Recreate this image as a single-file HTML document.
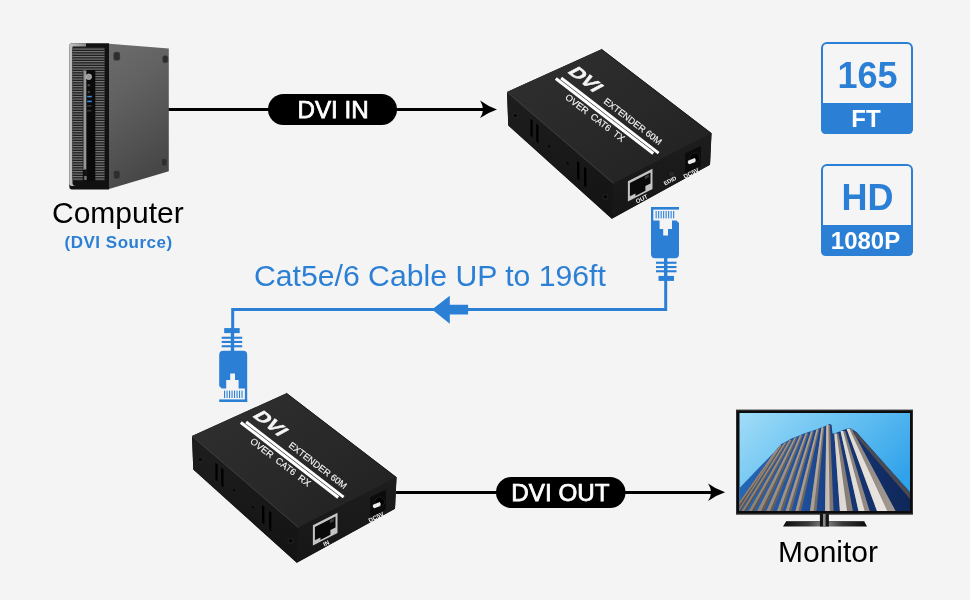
<!DOCTYPE html>
<html><head><meta charset="utf-8">
<style>
html,body{margin:0;padding:0;background:#f4f4f4;}
body{width:970px;height:600px;overflow:hidden;position:relative;font-family:"Liberation Sans",sans-serif;}
svg{position:absolute;left:0;top:0;will-change:transform;}
</style></head>
<body>
<svg width="970" height="600" viewBox="0 0 970 600">
<defs>
 <g id="plug">
  <rect x="0" y="0" width="28" height="2.6"/>
  <rect x="0" y="0" width="2.3" height="16"/>
  <rect x="4.6" y="4" width="1.1" height="7.4"/>
  <rect x="7.1" y="4" width="1.1" height="7.4"/>
  <rect x="9.6" y="4" width="1.1" height="7.4"/>
  <rect x="12.1" y="4" width="1.1" height="7.4"/>
  <rect x="14.6" y="4" width="1.1" height="7.4"/>
  <rect x="17.1" y="4" width="1.1" height="7.4"/>
  <rect x="19.6" y="4" width="1.1" height="7.4"/>
  <rect x="22.1" y="4" width="1.1" height="7.4"/>
  <path d="M0,16 L2.5,13.6 H8.6 V22 H12.2 V28.5 H17 V22 H21 V13.6 H25.5 L28,16 V47 Q28,51.2 24,51.2 H4 Q0,51.2 0,47 Z"/>
  <rect x="13" y="51" width="3.4" height="23"/>
  <rect x="5" y="54.7" width="20.5" height="2.1"/>
  <rect x="5" y="59" width="20.5" height="2.1"/>
  <rect x="5" y="63.2" width="20.5" height="2.1"/>
  <rect x="7.5" y="68.9" width="15.5" height="5"/>
 </g>
</defs>
<!-- black line top -->
<rect x="168" y="108" width="316" height="3" fill="#000"/>
<path d="M497,109.4 Q487.5,106.2 480.1,100.6 Q482.8,105 483,109.4 Q482.8,114 480.1,118 Q487.5,112.6 497,109.4 Z" fill="#000"/>
<rect x="268" y="94" width="129" height="31" rx="15.5" fill="#000"/>
<text x="333.1" y="118.3" font-size="24.2" fill="#fff" stroke="#fff" stroke-width="0.75" text-anchor="middle" font-family="Liberation Sans">DVI IN</text>
<!-- black line bottom -->
<rect x="396" y="491" width="316" height="3" fill="#000"/>
<path d="M725.1,492.3 Q715.6,489.1 708.1,483.5 Q710.9,487.9 711.1,492.3 Q710.9,496.7 708.1,501 Q715.6,495.5 725.1,492.3 Z" fill="#000"/>
<rect x="496" y="477" width="129.5" height="31" rx="15.5" fill="#000"/>
<text x="560.4" y="501.4" font-size="24.2" fill="#fff" stroke="#fff" stroke-width="0.75" text-anchor="middle" font-family="Liberation Sans">DVI OUT</text>
<!-- blue cable -->
<path d="M665.7,280 V309.5 H232.7 V330" fill="none" stroke="#2b80d6" stroke-width="3"/>
<path d="M432,309.5 L449.8,295.8 V304.7 H468.1 V314.5 H449.8 V323.8 Z" fill="#2b80d6"/>
<g fill="#2b80d6">
 <use href="#plug" transform="translate(651,207)"/>
 <use href="#plug" transform="translate(247.2,402) rotate(180)"/>
</g>
<text x="254" y="286.2" font-size="30.2" fill="#2b80d6" font-family="Liberation Sans">Cat5e/6 Cable UP to 196ft</text>
<!-- labels -->
<text x="52" y="223.2" font-size="30" fill="#000" font-family="Liberation Sans">Computer</text>
<text x="64.6" y="247.8" font-size="17" font-weight="bold" fill="#2b80d6" font-family="Liberation Sans" letter-spacing="0.5">(DVI Source)</text>
<text x="778" y="561.5" font-size="30" fill="#000" font-family="Liberation Sans">Monitor</text>
<!-- badges -->
<g>
 <rect x="822" y="43" width="90" height="90" rx="5" fill="#f5f5f5" stroke="#2b80d6" stroke-width="2"/>
 <path d="M821,103 H913 V129 Q913,134 908,134 H826 Q821,134 821,129 Z" fill="#2b80d6"/>
 <text x="867.5" y="88.4" font-size="36" font-weight="bold" fill="#2b80d6" text-anchor="middle" font-family="Liberation Sans">165</text>
 <text x="866" y="127" font-size="24" font-weight="bold" fill="#fff" text-anchor="middle" font-family="Liberation Sans">FT</text>
</g>
<g>
 <rect x="822" y="165" width="90" height="90" rx="5" fill="#f5f5f5" stroke="#2b80d6" stroke-width="2"/>
 <path d="M821,225 H913 V251 Q913,256 908,256 H826 Q821,256 821,251 Z" fill="#2b80d6"/>
 <text x="867.5" y="210" font-size="36" font-weight="bold" fill="#2b80d6" text-anchor="middle" font-family="Liberation Sans">HD</text>
 <text x="865.5" y="249" font-size="24" font-weight="bold" fill="#fff" text-anchor="middle" font-family="Liberation Sans">1080P</text>
</g>
<!-- TX box -->
<defs>
 <linearGradient id="topg" x1="0" y1="0" x2="1" y2="1">
  <stop offset="0" stop-color="#303030"/>
  <stop offset="0.5" stop-color="#292929"/>
  <stop offset="1" stop-color="#202020"/>
 </linearGradient>
 <linearGradient id="leftg" x1="0" y1="0" x2="0" y2="1">
  <stop offset="0" stop-color="#1e1e1e"/>
  <stop offset="1" stop-color="#131313"/>
 </linearGradient>
 <linearGradient id="frontg" x1="0" y1="0" x2="0" y2="1">
  <stop offset="0" stop-color="#1d1d1d"/>
  <stop offset="1" stop-color="#161616"/>
 </linearGradient>
 <g id="boxbody">
  <polygon points="507,92 601.5,49.3 711.5,133.5 710,164.8 611.8,218.8 508.3,125.5" fill="#161616"/>
  <polygon points="507,92 601.5,49.3 711.5,133.5 613.5,183.5" fill="url(#topg)"/>
  <polygon points="507,92 613.5,183.5 611.8,218.8 508.3,125.5" fill="url(#leftg)"/>
  <polygon points="613.5,183.5 711.5,133.5 710,164.8 611.8,218.8" fill="url(#frontg)"/>
  <path d="M507,92 L613.5,183.5" fill="none" stroke="#4a4a4a" stroke-width="0.8"/>
  <path d="M601.5,49.3 L711.5,133.5" fill="none" stroke="#151515" stroke-width="0.9"/>
  <!-- vents -->
  <g fill="#000">
   <polygon points="530.4,118.9 532.7,120.6 532.7,137.5 530.4,135.8"/>
   <polygon points="536.2,123.5 538.5,125.4 538.5,143.4 536.2,141.5"/>
   <polygon points="577,160.9 579.4,162.8 579.4,180.7 577,178.8"/>
   <polygon points="584,166.7 586.4,168.7 586.4,187.7 584,185.7"/>
   <circle cx="549" cy="146.2" r="1"/>
   <circle cx="567.7" cy="163.2" r="1"/>
   <circle cx="515.3" cy="115.5" r="2.3" fill="#080808" stroke="#2e2e2e" stroke-width="0.7"/>
   <circle cx="605.5" cy="196.8" r="2.5" fill="#080808" stroke="#2e2e2e" stroke-width="0.7"/>
  </g>
  <!-- stripes -->
  <g transform="translate(556.5,77.5) rotate(37.6)" fill="#ffffff">
   <rect x="4" y="-3.9" width="123" height="2.9"/>
   <rect x="0" y="-0.4" width="123" height="3.1"/>
  </g>
  <!-- RJ45 -->
  <g transform="matrix(1,-0.508,0,1,627.9,181.3)">
   <rect x="0" y="0" width="24.6" height="20.2" fill="#c4c4c4"/>
   <path d="M2,2.6 H22.6 V13.6 H17.5 V18.4 H7.5 V16 H2 Z" fill="#0a0a0a"/>
   <rect x="17" y="3.5" width="4" height="3" fill="#3a3a3a"/>
  </g>
  <!-- DC jack -->
  <g transform="matrix(1,-0.47,0,1,685.2,153.3)">
   <rect x="0" y="0" width="15.6" height="20" fill="#0b0b0b"/>
  </g>
  <circle cx="694.6" cy="157.8" r="4.8" fill="#000" stroke="#2a2a2a" stroke-width="0.6"/>
  <path d="M688,160.8 L694.8,158 Q696.6,160 695.2,162 L689.5,164.2 Q687.3,163.4 688,160.8 Z" fill="#ececec"/>
 </g>
</defs>
<g id="tx">
 <use href="#boxbody"/>
  <circle cx="671.2" cy="173.3" r="3.9" fill="#161616"/>
  <circle cx="671.6" cy="174" r="2.8" fill="#262626"/>

 <g fill="#f6f6f6" font-family="Liberation Sans">
  <text transform="translate(566.8,71.9) rotate(37.5) skewX(-24) scale(1.2,1)" font-size="17" stroke="#f4f4f4" stroke-width="0.5" font-weight="bold">DVI</text>
  <text transform="translate(603,102.5) rotate(37.5)" font-size="9.2" stroke="#f6f6f6" stroke-width="0.12">EXTENDER 60M</text>
  <text transform="translate(564.5,98.5) rotate(37.5)" font-size="9.4" stroke="#f6f6f6" stroke-width="0.12" style="white-space:pre">OVER  CAT6  TX</text>
  <text transform="translate(637,203.5) rotate(-27)" font-size="6" font-weight="bold">OUT</text>
  <text transform="translate(665,185.5) rotate(-27)" font-size="5.6" font-weight="bold">EDID</text>
  <text transform="translate(684.8,178.8) rotate(-27)" font-size="6.1" font-weight="bold">DC5V</text>
 </g>
</g>
<g id="rx" transform="translate(-315,344)">
 <use href="#boxbody"/>
 <g fill="#f6f6f6" font-family="Liberation Sans">
  <text transform="translate(566.8,71.9) rotate(37.5) skewX(-24) scale(1.2,1)" font-size="17" stroke="#f4f4f4" stroke-width="0.5" font-weight="bold">DVI</text>
  <text transform="translate(603,102.5) rotate(37.5)" font-size="9.2" stroke="#f6f6f6" stroke-width="0.12">EXTENDER 60M</text>
  <text transform="translate(564.5,98.5) rotate(37.5)" font-size="9.4" stroke="#f6f6f6" stroke-width="0.12" style="white-space:pre">OVER  CAT6  RX</text>
  <text transform="translate(639.5,202.5) rotate(-27)" font-size="6" font-weight="bold">IN</text>
  <text transform="translate(684.8,178.8) rotate(-27)" font-size="6.1" font-weight="bold">DC5V</text>
 </g>
</g>
<!-- computer -->
<defs>
 <linearGradient id="sideg" x1="0" y1="0" x2="0.3" y2="1">
  <stop offset="0" stop-color="#6c6c6c"/>
  <stop offset="0.35" stop-color="#626262"/>
  <stop offset="0.75" stop-color="#525252"/>
  <stop offset="1" stop-color="#474747"/>
 </linearGradient>
 <linearGradient id="bezg" x1="0" y1="0" x2="1" y2="0">
  <stop offset="0" stop-color="#c4c4c4"/>
  <stop offset="1" stop-color="#8a8a8a"/>
 </linearGradient>
</defs>
<g id="pc">
 <polygon points="109,43.7 168.8,48.5 168.8,171.3 109,189" fill="url(#sideg)"/>
 <path d="M69.3,46 Q69.3,43.3 72,43.3 H109 V189.5 H72 Q69.3,189.5 69.3,186 Z" fill="#111"/>
 <path d="M69.3,46 Q69.3,43.3 72,43.3 H86 V46.5 H72.5 V183 Q72.5,186 76,186 H72 Q69.3,186 69.3,183 Z" fill="url(#bezg)"/>
 <rect x="72.5" y="47" width="32.5" height="134" rx="2" fill="#1e1e1e"/>
 <g fill="#747474">
   <rect x="72.5" y="48.5" width="32" height="1.2"/>
   <rect x="72.5" y="51.0" width="32" height="1.2"/>
   <rect x="72.5" y="53.5" width="32" height="1.2"/>
   <rect x="72.5" y="56.0" width="32" height="1.2"/>
   <rect x="72.5" y="58.5" width="32" height="1.2"/>
   <rect x="72.5" y="61.0" width="32" height="1.2"/>
   <rect x="72.5" y="63.5" width="32" height="1.2"/>
   <rect x="72.5" y="66.0" width="32" height="1.2"/>
   <rect x="72.5" y="68.5" width="32" height="1.2"/>
   <rect x="72.5" y="71.0" width="32" height="1.2"/>
   <rect x="72.5" y="73.5" width="32" height="1.2"/>
   <rect x="72.5" y="76.0" width="32" height="1.2"/>
   <rect x="72.5" y="78.5" width="32" height="1.2"/>
   <rect x="72.5" y="81.0" width="32" height="1.2"/>
   <rect x="72.5" y="83.5" width="32" height="1.2"/>
   <rect x="72.5" y="86.0" width="32" height="1.2"/>
   <rect x="72.5" y="88.5" width="32" height="1.2"/>
   <rect x="72.5" y="91.0" width="32" height="1.2"/>
   <rect x="72.5" y="93.5" width="32" height="1.2"/>
   <rect x="72.5" y="96.0" width="32" height="1.2"/>
   <rect x="72.5" y="98.5" width="32" height="1.2"/>
   <rect x="72.5" y="101.0" width="32" height="1.2"/>
   <rect x="72.5" y="103.5" width="32" height="1.2"/>
   <rect x="72.5" y="106.0" width="32" height="1.2"/>
   <rect x="72.5" y="108.5" width="32" height="1.2"/>
   <rect x="72.5" y="111.0" width="32" height="1.2"/>
   <rect x="72.5" y="113.5" width="32" height="1.2"/>
   <rect x="72.5" y="116.0" width="32" height="1.2"/>
   <rect x="72.5" y="118.5" width="32" height="1.2"/>
   <rect x="72.5" y="121.0" width="32" height="1.2"/>
   <rect x="72.5" y="123.5" width="32" height="1.2"/>
   <rect x="72.5" y="126.0" width="32" height="1.2"/>
   <rect x="72.5" y="128.5" width="32" height="1.2"/>
   <rect x="72.5" y="131.0" width="32" height="1.2"/>
   <rect x="72.5" y="133.5" width="32" height="1.2"/>
   <rect x="72.5" y="136.0" width="32" height="1.2"/>
   <rect x="72.5" y="138.5" width="32" height="1.2"/>
   <rect x="72.5" y="141.0" width="32" height="1.2"/>
   <rect x="72.5" y="143.5" width="32" height="1.2"/>
   <rect x="72.5" y="146.0" width="32" height="1.2"/>
   <rect x="72.5" y="148.5" width="32" height="1.2"/>
   <rect x="72.5" y="151.0" width="32" height="1.2"/>
   <rect x="72.5" y="153.5" width="32" height="1.2"/>
   <rect x="72.5" y="156.0" width="32" height="1.2"/>
   <rect x="72.5" y="158.5" width="32" height="1.2"/>
   <rect x="72.5" y="161.0" width="32" height="1.2"/>
   <rect x="72.5" y="163.5" width="32" height="1.2"/>
   <rect x="72.5" y="166.0" width="32" height="1.2"/>
   <rect x="72.5" y="168.5" width="32" height="1.2"/>
   <rect x="72.5" y="171.0" width="32" height="1.2"/>
   <rect x="72.5" y="173.5" width="32" height="1.2"/>
   <rect x="72.5" y="176.0" width="32" height="1.2"/>
   <rect x="72.5" y="178.5" width="32" height="1.2"/>
 </g>
 <rect x="82.8" y="70.5" width="3.7" height="110.5" fill="#101010"/>
 <rect x="83" y="70.5" width="3.5" height="99" fill="#9a9a9a"/>
 <rect x="83" y="70.5" width="1.1" height="99" fill="#5e5e5e"/>
 <rect x="86.5" y="70" width="8.8" height="111" fill="#0a0a0a"/>
 <circle cx="88.8" cy="76.8" r="2.8" fill="#9a9a9a" stroke="#cfcfcf" stroke-width="0.6"/>
 <circle cx="88.8" cy="85.3" r="1.3" fill="#444"/>
 <circle cx="88.8" cy="92" r="1.3" fill="#444"/>
 <rect x="87.2" y="95.8" width="4.6" height="1.6" fill="#3a8ad8"/>
 <rect x="87.2" y="100.6" width="4.6" height="1.6" fill="#3a8ad8"/>
 <rect x="87.2" y="105" width="4.2" height="1.8" fill="#333"/>
 <rect x="87.2" y="109.8" width="4.2" height="1.8" fill="#333"/>
 <rect x="84.2" y="176" width="2.4" height="4" fill="#777"/>
 <g fill="#2e2e2e" stroke="#555" stroke-width="0.5">
  <rect x="113.5" y="52" width="6.5" height="8.5" rx="2"/>
  <rect x="162.5" y="55.5" width="5.5" height="7.5" rx="2"/>
  <rect x="113.5" y="170.5" width="6.5" height="8.5" rx="2"/>
  <rect x="161.5" y="158.5" width="5.5" height="7.5" rx="2"/>
 </g>
</g>
<!-- monitor -->
<defs>
 <linearGradient id="skyg" x1="0" y1="0" x2="1" y2="0.6">
  <stop offset="0" stop-color="#a2dcf7"/>
  <stop offset="0.45" stop-color="#6cc4f2"/>
  <stop offset="1" stop-color="#30a2ea"/>
 </linearGradient>
 <linearGradient id="bldg" gradientUnits="userSpaceOnUse" x1="739" y1="0" x2="910" y2="0">
  <stop offset="0" stop-color="#2568b4"/>
  <stop offset="0.35" stop-color="#1f52a0"/>
  <stop offset="0.6" stop-color="#163878"/>
  <stop offset="1" stop-color="#0f2658"/>
 </linearGradient>
 <linearGradient id="colg" gradientUnits="userSpaceOnUse" x1="739" y1="0" x2="905" y2="0">
  <stop offset="0" stop-color="#8a7d72"/>
  <stop offset="0.45" stop-color="#aaa096"/>
  <stop offset="0.6" stop-color="#ddd8d2"/>
  <stop offset="1" stop-color="#efebe7"/>
 </linearGradient>
 <linearGradient id="colsg" gradientUnits="userSpaceOnUse" x1="739" y1="0" x2="905" y2="0">
  <stop offset="0" stop-color="#5a4e48"/>
  <stop offset="0.5" stop-color="#7a7068"/>
  <stop offset="1" stop-color="#a8a19a"/>
 </linearGradient>
 <linearGradient id="baseg" x1="0" y1="0" x2="1" y2="0">
  <stop offset="0" stop-color="#0a0a0a"/>
  <stop offset="0.3" stop-color="#3a3a3a"/>
  <stop offset="0.5" stop-color="#8a8a8a"/>
  <stop offset="0.7" stop-color="#3a3a3a"/>
  <stop offset="1" stop-color="#0a0a0a"/>
 </linearGradient>
 <clipPath id="bclip"><polygon points="739.5,488 775,451.2 781.2,444 786.3,441.4 792,438.3 797.7,436.2 803.9,433.6 810,431.6 816.2,429.5 821.4,427.5 826.5,425.4 829.6,423.9 831.5,424.8 832.5,433.5 834.3,433.6 841,431 847.2,428.5 851,428.6 856.4,432.1 910,492.3 910,511 739.5,511"/></clipPath>
</defs>
<g id="mon">
 <rect x="736" y="409.7" width="177" height="104.8" fill="#0c0c0c"/>
 <rect x="736.6" y="410.3" width="175.8" height="103.6" fill="none" stroke="#3a3a3a" stroke-width="0.8"/>
 <rect x="739.5" y="413" width="170.5" height="98" fill="url(#skyg)"/>
 <polygon points="739.5,488 775,451.2 781.2,444 786.3,441.4 792,438.3 797.7,436.2 803.9,433.6 810,431.6 816.2,429.5 821.4,427.5 826.5,425.4 829.6,423.9 831.5,424.8 832.5,433.5 834.3,433.6 841,431 847.2,428.5 851,428.6 856.4,432.1 910,492.3 910,511 739.5,511" fill="url(#bldg)"/>
 <g clip-path="url(#bclip)">
 <g fill="url(#colsg)">
<polygon points="733,511 737,511 779,449 776.5,449"/>
<polygon points="737.5,511 740.5,511 782.5,445 780,445"/>
<polygon points="741.7,511 745.9,511 787,442.5 784.5,442.5"/>
<polygon points="748.7,511 754.4,511 792,440 789.5,440"/>
<polygon points="757.2,511 764.3,511 797.3,437.5 794.5,437.5"/>
<polygon points="766.4,511 772.8,511 802.8,435.3 800,435.3"/>
<polygon points="777,511 782.7,511 808.3,433.2 805.5,433.2"/>
<polygon points="785.6,511 791.2,511 813.8,431.2 811,431.2"/>
<polygon points="795.5,511 801,511 819.3,429.2 816.5,429.2"/>
<polygon points="810,511 816.5,511 824.3,427.2 821.5,427.2"/>
<polygon points="825,511 833.5,511 830,425 826.3,425"/>
<polygon points="839.9,511 852.9,511 838.5,433.4 834.3,433.4"/>
<polygon points="858.5,511 869.6,511 845,431 840.5,431"/>
<polygon points="877,511 895.6,511 851.5,428.5 846.5,428.5"/>
 </g>
 <g fill="url(#colg)">
<polygon points="733,511 735.2,511 777.9,449 776.5,449"/>
<polygon points="737.5,511 739.1,511 781.4,445 780,445"/>
<polygon points="741.7,511 744.0,511 785.9,442.5 784.5,442.5"/>
<polygon points="748.7,511 751.8,511 790.9,440 789.5,440"/>
<polygon points="757.2,511 761.1,511 796.0,437.5 794.5,437.5"/>
<polygon points="766.4,511 769.9,511 801.5,435.3 800,435.3"/>
<polygon points="777,511 780.1,511 807.0,433.2 805.5,433.2"/>
<polygon points="785.6,511 788.7,511 812.5,431.2 811,431.2"/>
<polygon points="795.5,511 798.5,511 818.0,429.2 816.5,429.2"/>
<polygon points="810,511 813.6,511 823.0,427.2 821.5,427.2"/>
<polygon points="825,511 829.7,511 828.3,425 826.3,425"/>
<polygon points="839.9,511 847.0,511 836.6,433.4 834.3,433.4"/>
<polygon points="858.5,511 864.6,511 843.0,431 840.5,431"/>
<polygon points="877,511 887.2,511 849.2,428.5 846.5,428.5"/>
 </g>
 <polygon points="853,433 856.4,432.1 910,492.3 910,499" fill="#4a4a52"/>
 </g>
 <polygon points="786.4,521 864,521 867,526.6 783,526.6" fill="url(#baseg)"/>
 <polygon points="786.4,521 864,521 864.6,522 785.8,522" fill="#555" opacity="0.6"/>
 <rect x="819.9" y="514" width="9" height="12.5" fill="#151515"/>
 <rect x="823" y="514" width="2.6" height="12.5" fill="#8a8a8a"/>
</g>
</svg>
</body></html>
